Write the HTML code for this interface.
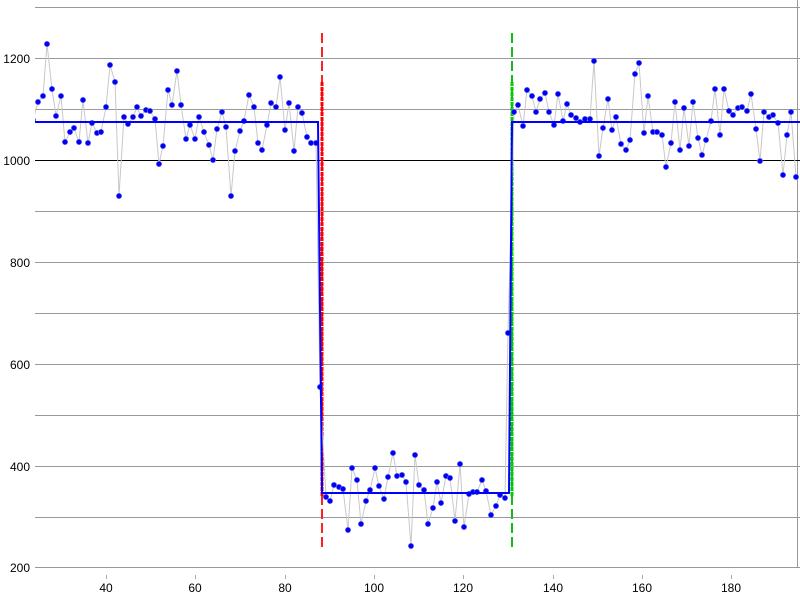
<!DOCTYPE html>
<html><head><meta charset="utf-8"><style>
html,body{margin:0;padding:0;background:#fff;}
svg{display:block;}
text{font-family:"Liberation Sans",sans-serif;font-size:12px;fill:#000;}
</style></head><body>
<svg width="800" height="600" viewBox="0 0 800 600" xmlns="http://www.w3.org/2000/svg">
<defs>
<marker id="d" markerUnits="userSpaceOnUse" markerWidth="8" markerHeight="8" refX="4" refY="4"><circle cx="4" cy="4" r="2.7" fill="#0000ee" stroke="#7777ff" stroke-width="0.6"/></marker>
<clipPath id="c"><rect x="35" y="0" width="765" height="570"/></clipPath>
</defs>
<g stroke="#999" stroke-width="1">
<line x1="35" y1="7.5" x2="800" y2="7.5"/>
<line x1="35" y1="58.5" x2="800" y2="58.5"/>
<line x1="35" y1="109.5" x2="800" y2="109.5"/>
<line x1="35" y1="211.5" x2="800" y2="211.5"/>
<line x1="35" y1="262.5" x2="800" y2="262.5"/>
<line x1="35" y1="313.5" x2="800" y2="313.5"/>
<line x1="35" y1="364.5" x2="800" y2="364.5"/>
<line x1="35" y1="415.5" x2="800" y2="415.5"/>
<line x1="35" y1="466.5" x2="800" y2="466.5"/>
<line x1="35" y1="517.5" x2="800" y2="517.5"/>
<line x1="35" y1="567.5" x2="800" y2="567.5"/>
<line x1="797.5" y1="0" x2="797.5" y2="567"/>
</g>
<line x1="35" y1="160.5" x2="800" y2="160.5" stroke="#000" stroke-width="1"/>
<g stroke="#aaa"><line x1="106.5" y1="575" x2="106.5" y2="579"/><line x1="195.5" y1="575" x2="195.5" y2="579"/><line x1="285.5" y1="575" x2="285.5" y2="579"/><line x1="374.5" y1="575" x2="374.5" y2="579"/><line x1="463.5" y1="575" x2="463.5" y2="579"/><line x1="553.5" y1="575" x2="553.5" y2="579"/><line x1="642.5" y1="575" x2="642.5" y2="579"/><line x1="731.5" y1="575" x2="731.5" y2="579"/></g>
<g text-anchor="middle">
<text x="106" y="592">40</text><text x="195" y="592">60</text><text x="285" y="592">80</text><text x="374" y="592">100</text><text x="463" y="592">120</text><text x="553" y="592">140</text><text x="642" y="592">160</text><text x="731" y="592">180</text>
</g>
<g text-anchor="end">
<text x="30" y="63">1200</text><text x="30" y="165">1000</text><text x="30" y="267">800</text><text x="30" y="369">600</text><text x="30" y="471">400</text><text x="30" y="572">200</text>
</g>
<line x1="322" y1="33" x2="322" y2="548" stroke="#ff2020" stroke-width="2" stroke-dasharray="10,4"/>
<line x1="322" y1="82" x2="322" y2="497" stroke="#ff0000" stroke-width="3" stroke-dasharray="4,1"/>
<line x1="512" y1="33" x2="512" y2="548" stroke="#10c010" stroke-width="2" stroke-dasharray="10,4"/>
<line x1="512" y1="82" x2="512" y2="497" stroke="#00cc00" stroke-width="3" stroke-dasharray="4,1"/>
<g clip-path="url(#c)">
<polyline fill="none" stroke="#c8c8c8" stroke-width="1" marker-start="url(#d)" marker-mid="url(#d)" marker-end="url(#d)" points="
33,120 38,102 43,96 47,44 52,89 56,116 61,96 65,142 70,132 74,128 79,142 83,100 88,143 92,123 97,133 101,132 106,107 110,65 115,82 119,196 124,117 128,124 133,117 137,107 141,116 146,110 150,111 155,119 159,164 163,146 168,90 172,105 177,71 181,105 186,139 190,125 195,139 199,117 204,132 209,145 213,160 217,129 222,112 226,127 231,196 235,151 240,131 244,121 249,95 254,107 258,143 262,150 267,125 271,103 276,107 280,77 285,130 289,103 294,151 298,107 302,113 307,137 311,143 316,143 320,387
326,497 330,501 334,485 339,487 343,489 348,530 352,468 357,480 361,524 366,501 370,490 375,468 379,486 384,499 388,477 393,453 397,476 402,475 406,482 411,546 415,455 419,485 424,490 428,524 433,508 437,482 441,503 446,476 450,478 455,521 460,464 464,527 469,494 473,492 477,492 482,480 486,491 491,515 496,506 500,495 505,498 508,333
514,112 518,105 523,126 527,90 532,96 536,112 540,99 545,93 549,112 554,125 558,94 563,121 567,104 571,115 576,118 580,122 585,119 590,119 594,61 599,156 603,128 608,99 612,130 616,117 621,144 626,150 630,140 635,74 639,63 644,133 648,96 653,132 657,132 662,135 666,167 671,143 675,102 680,150 684,108 689,146 693,102 698,138 702,155 706,140 711,121 715,89 720,135 724,89 729,111 733,115 738,108 742,107 747,111 751,94 756,129 760,161 764,112 769,117 773,115 778,123 783,175 787,135 791,112 796,177"/>
</g>
<polyline fill="none" stroke="#0000ff" stroke-width="2" points="35,122 318,122 322,493 509,493 512,122 800,122"/>
</svg>
</body></html>
